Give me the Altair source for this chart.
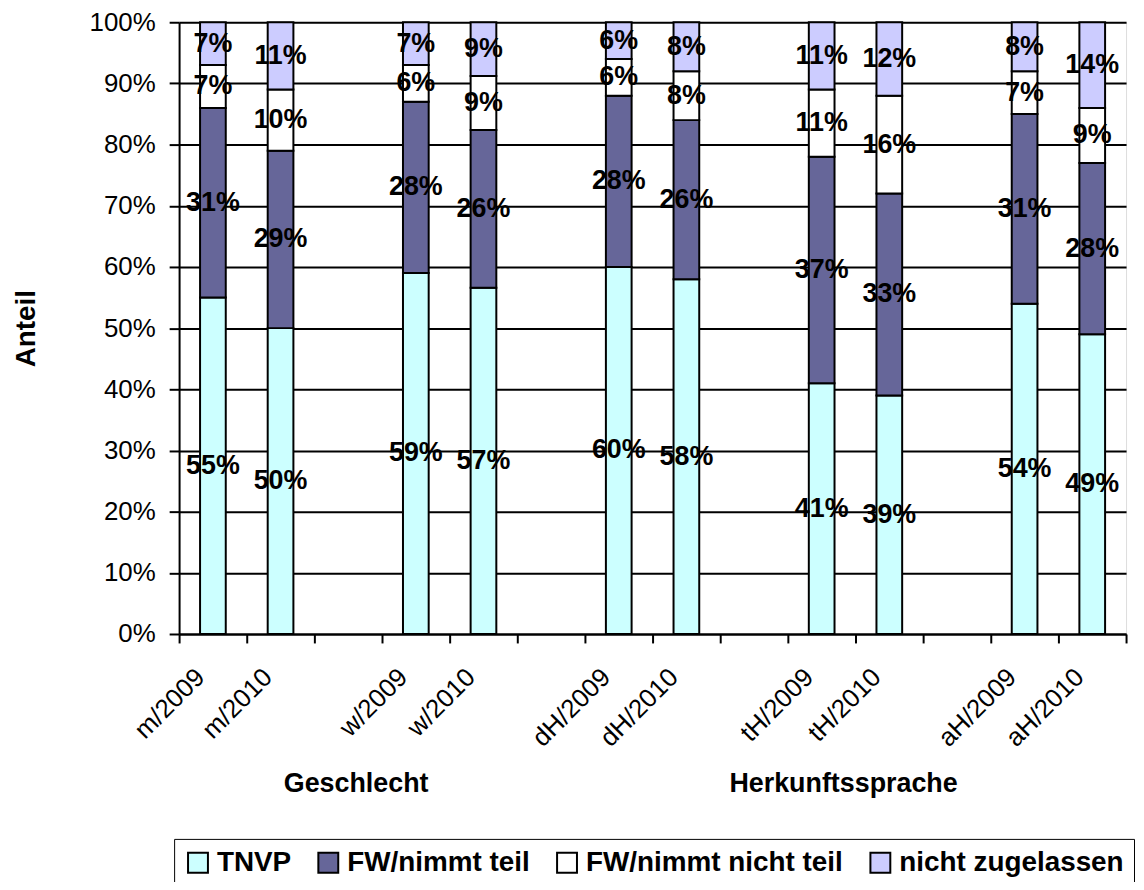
import altair as alt
import pandas as pd

# ---- data ----
categories = ["m/2009", "m/2010", "w/2009", "w/2010", "dH/2009", "dH/2010",
              "tH/2009", "tH/2010", "aH/2009", "aH/2010"]
slots = ["m/2009", "m/2010", "_1", "w/2009", "w/2010", "_2", "dH/2009", "dH/2010",
         "_3", "tH/2009", "tH/2010", "_4", "aH/2009", "aH/2010"]
series = ["TNVP", "FW/nimmt teil", "FW/nimmt nicht teil", "nicht zugelassen"]
colors = ["#CCFFFF", "#666699", "#FFFFFF", "#CCCCFF"]
tnvp = [55, 50, 59, 56.6, 60, 58, 41, 39, 54, 49]
fw_teil = [31, 29, 28, 25.8, 28, 26, 37, 33, 31, 28]
fw_nicht = [7, 10, 6, 8.8, 6, 8, 11, 16, 7, 9]
nicht_zug = [7, 11, 7, 8.8, 6, 8, 11, 12, 8, 14]
groups = ["Geschlecht", "Herkunftssprache"]
group_anchor = ["_1", "tH/2009"]
group_dx = [8, 22]
y_ticks = [0, 0.1, 0.2, 0.3, 0.4, 0.5, 0.6, 0.7, 0.8, 0.9, 1.0]

rows = []
for i, c in enumerate(categories):
    for j, vals in enumerate([tnvp, fw_teil, fw_nicht, nicht_zug]):
        rows.append({"cat": c, "series": series[j], "order": j, "value": vals[i]})
df = pd.DataFrame(rows)

font = "Liberation Sans"
xscale = alt.Scale(domain=slots, paddingInner=0, paddingOuter=0)
yscale = alt.Scale(domain=[0, 1], nice=False)
colorscale = alt.Scale(domain=series, range=colors)

x_axis = alt.Axis(
    title=None, labelAngle=-45, labelAlign="right", labelBaseline="middle",
    labelFont=font, labelFontSize=26, labelColor="black", labelPadding=30,
    labelOffset=-13, tickBand="extent", ticks=True, tickSize=9, tickColor="black",
    tickWidth=2, domainColor="black", domainWidth=2, grid=False, labelOverlap=False,
    labelExpr="indexof(datum.label, '_') == 0 ? '' : datum.label")
y_axis = alt.Axis(
    title="Anteil", titleFont=font, titleFontSize=28, titleFontWeight="bold",
    titleColor="black", titleX=-153, titleY=307.5, titleBaseline="middle",
    format=".0%", values=y_ticks, labelFont=font, labelFontSize=26,
    labelColor="black", labelPadding=14, tickSize=10, tickColor="black",
    tickWidth=2, domainColor="black", domainWidth=2, grid=True,
    gridColor="black", gridWidth=2, gridOpacity=1)

base = alt.Chart(df)

bars = base.mark_bar(width=alt.RelativeBandSize(0.38), stroke="black", strokeWidth=2).encode(
    x=alt.X("cat:N", scale=xscale, axis=x_axis),
    y=alt.Y("value:Q", stack="normalize", scale=yscale, axis=y_axis, title="Anteil"),
    color=alt.Color("series:N", scale=colorscale, legend=alt.Legend(
        title=None, orient="none", legendX=-5, legendY=821, direction="horizontal",
        columns=4, symbolType="square", symbolSize=400, symbolStrokeColor="black",
        symbolStrokeWidth=2, symbolOpacity=1, labelFont=font, labelFontSize=28,
        labelFontWeight="bold", labelColor="black", labelOffset=5, labelLimit=600,
        columnPadding=23, padding=10, strokeColor="black", fillColor="white")),
    order=alt.Order("order:Q", sort="ascending"),
)

labels = base.transform_stack(
    stack="value", groupby=["cat"], as_=["v0", "v1"],
    sort=[alt.SortField("order", order="ascending")], offset="normalize"
).transform_calculate(
    mid="(datum.v0 + datum.v1) / 2", lab="format(datum.value / 100, '.0%')"
).mark_text(font=font, fontSize=27, fontWeight="bold", color="black",
            align="center", baseline="middle").encode(
    x=alt.X("cat:N", scale=xscale, axis=x_axis),
    y=alt.Y("mid:Q", scale=yscale, axis=y_axis, title="Anteil"),
    text="lab:N",
)

layers = [bars, labels]
for g, a, d in zip(groups, group_anchor, group_dx):
    gdf = pd.DataFrame({"cat": [a], "label": [g], "gy": [-0.245]})
    layers.append(alt.Chart(gdf).mark_text(
        font=font, fontSize=27, fontWeight="bold", color="black", align="center",
        baseline="middle", dx=d).encode(
        x=alt.X("cat:N", scale=xscale, axis=x_axis),
        y=alt.Y("gy:Q", scale=yscale, axis=y_axis, title="Anteil"),
        text="label:N"))

chart = alt.layer(*layers).properties(
    width=952, height=615,
    autosize=alt.AutoSizeParams(type="none"),
    padding={"left": 172, "top": 12, "right": 10, "bottom": 247},
).configure_view(stroke=None).configure(font=font)

chart.save("out.html", embed_options={"renderer": "svg", "actions": False})
